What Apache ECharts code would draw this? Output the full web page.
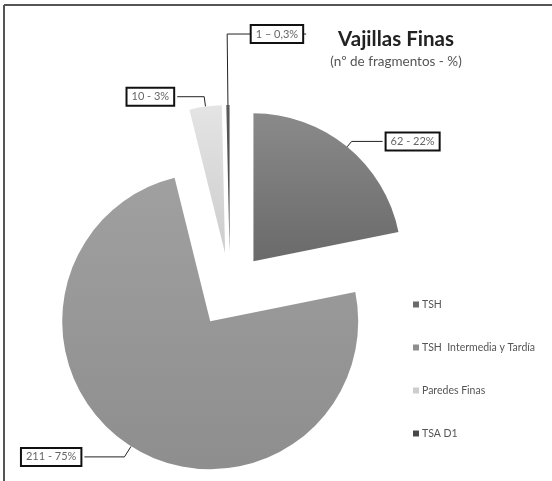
<!DOCTYPE html>
<html>
<head>
<meta charset="utf-8">
<script src="https://cdn.jsdelivr.net/npm/echarts@6/dist/echarts.min.js"></script>
<style>html,body{margin:0;padding:0;background:#fff}#c{width:552px;height:481px}</style>
</head>
<body>
<div id="c"></div>
<script>
// Data
const categories = ['TSH', 'TSH  Intermedia y Tardía', 'Paredes Finas', 'TSA D1'];
const counts = [62, 211, 10, 1];
const labelSeparators = [' - ', ' - ', ' - ', ' – '];
const percentLabels = ['22%', '75%', '3%', '0,3%'];

// Styles / layout
const topColors = ['#8a8a8a', '#a0a0a0', '#e4e4e4', '#5a5a5a'];
const bottomColors = ['#6a6a6a', '#8e8e8e', '#cdcdcd', '#484848'];
const lineLen1 = [7, 12.5, 10, 71];
const lineLen2 = [31, 40, 27, -79];
const pieCenter = [230, 290];
const pieRadius = 148;
const explode = 37;

const chart = echarts.init(document.getElementById('c'), null, {renderer: 'canvas'});
const FONT = 'Lato, "Open Sans", sans-serif';

const total = counts.reduce((a, b) => a + b, 0);
let acc = 0;
const series = counts.map((v, i) => {
  const midDeg = (acc + v / 2) / total * 360; // clockwise from 12 o'clock
  acc += v;
  const a = midDeg * Math.PI / 180;
  const cx = pieCenter[0] + explode * Math.sin(a);
  const cy = pieCenter[1] - explode * Math.cos(a);
  return {
    type: 'pie',
    center: [cx, cy],
    radius: [0, pieRadius],
    startAngle: 90,
    clockwise: true,
    avoidLabelOverlap: false,
    silent: true,
    emphasis: {disabled: true},
    z: 2,
    data: categories.map((n, j) => j === i ? {
      name: n,
      value: counts[j],
      itemStyle: {
        color: new echarts.graphic.LinearGradient(0, 0, 0, 1, [
          {offset: 0, color: topColors[j]},
          {offset: 1, color: bottomColors[j]}
        ])
      },
      labelLine: {length: lineLen1[j], length2: lineLen2[j]}
    } : {
      name: n,
      value: counts[j],
      itemStyle: {color: 'rgba(0,0,0,0)'},
      label: {show: false},
      labelLine: {show: false}
    }),
    label: {
      show: true,
      position: 'outside',
      formatter: p => counts[p.dataIndex] + labelSeparators[p.dataIndex] + percentLabels[p.dataIndex],
      fontFamily: FONT,
      fontSize: 11,
      color: '#666',
      backgroundColor: '#fff',
      borderColor: '#111',
      borderWidth: 2,
      padding: [3, 4, 2, 4],
      distanceToLabelLine: 4
    },
    labelLine: {
      show: true,
      minTurnAngle: 0,
      lineStyle: {color: '#222', width: 1}
    }
  };
});

chart.setOption({
  animation: false,
  title: {
    text: 'Vajillas Finas',
    subtext: '(nº de fragmentos - %)',
    left: 391,
    top: 24,
    textAlign: 'center',
    itemGap: 5,
    textStyle: {fontFamily: FONT, fontSize: 20.5, fontWeight: 'bold', color: '#222'},
    subtextStyle: {fontFamily: FONT, fontSize: 13.5, color: '#555'}
  },
  legend: {
    orient: 'vertical',
    left: 408,
    top: 294,
    itemGap: 32,
    itemWidth: 6,
    itemHeight: 6,
    icon: 'rect',
    selectedMode: false,
    textStyle: {fontFamily: FONT, fontSize: 10.5, color: '#555', padding: [0, 0, 0, -2]},
    data: categories.map((n, i) => ({name: n, itemStyle: {color: bottomColors[i]}}))
  },
  graphic: [
    {type: 'line', shape: {x1: 4, y1: 5, x2: 552, y2: 5}, style: {stroke: '#555', lineWidth: 2}},
    {type: 'line', shape: {x1: 4, y1: 5, x2: 4, y2: 481}, style: {stroke: '#555', lineWidth: 2}}
  ],
  series: series
});
</script>
</body>
</html>
